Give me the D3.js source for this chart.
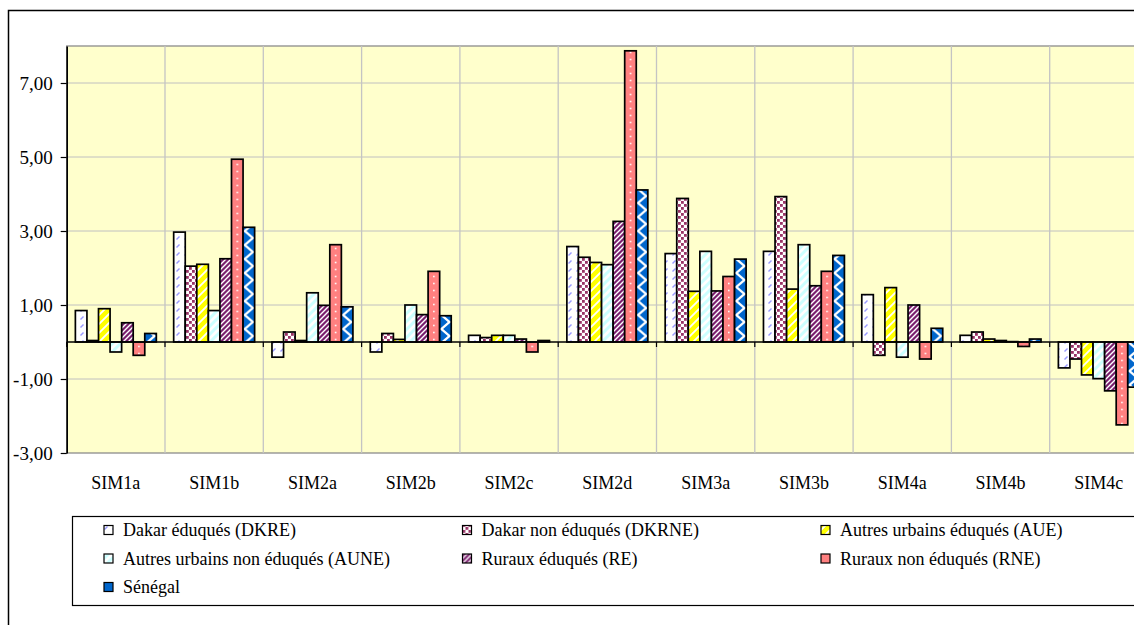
<!DOCTYPE html>
<html><head><meta charset="utf-8">
<script src="https://cdn.jsdelivr.net/npm/d3@7"></script>
<style>
html,body{margin:0;padding:0;background:#fff;}
</style></head>
<body>
<script>
const categories = ["SIM1a","SIM1b","SIM2a","SIM2b","SIM2c","SIM2d","SIM3a","SIM3b","SIM4a","SIM4b","SIM4c"];
const seriesNames = ["Dakar éduqués (DKRE)","Dakar non éduqués (DKRNE)","Autres urbains éduqués (AUE)","Autres urbains non éduqués (AUNE)","Ruraux éduqués (RE)","Ruraux non éduqués (RNE)","Sénégal"];
const DKRE  = [0.85, 2.97, -0.41, -0.27, 0.18, 2.58, 2.39, 2.45, 1.28, 0.18, -0.70];
const DKRNE = [0.04, 2.05, 0.27, 0.23, 0.12, 2.29, 3.88, 3.93, -0.36, 0.27, -0.46];
const AUE   = [0.90, 2.10, 0.04, 0.07, 0.18, 2.15, 1.37, 1.43, 1.47, 0.08, -0.89];
const AUNE  = [-0.27, 0.85, 1.33, 1.00, 0.18, 2.09, 2.45, 2.63, -0.41, 0.04, -0.99];
const RE    = [0.52, 2.25, 0.99, 0.74, 0.08, 3.26, 1.38, 1.52, 1.00, 0.01, -1.32];
const RNE   = [-0.36, 4.94, 2.63, 1.91, -0.27, 7.87, 1.77, 1.91, -0.46, -0.12, -2.24];
const SEN   = [0.23, 3.10, 0.95, 0.71, 0.04, 4.11, 2.24, 2.34, 0.37, 0.08, -1.22];
const yTicks = [-3, -1, 1, 3, 5, 7];
const yDomain = [-3, 8];

const seriesValues = [DKRE, DKRNE, AUE, AUNE, RE, RNE, SEN];
const keys = ["DKRE","DKRNE","AUE","AUNE","RE","RNE","SEN"];
const FONT = "'Liberation Serif'";

const W = 1134, H = 625;
const plotL = 66.7, plotT = 46, plotB = 453, catStep = 98.3;
const plotR = plotL + catStep * categories.length;

const svg = d3.select("body").append("svg").attr("width", W).attr("height", H);
const defs = svg.append("defs");

const x = d3.scaleBand().domain(categories).range([plotL, plotR]).paddingInner(0).paddingOuter(0);
const xi = d3.scaleBand().domain(keys).range([0, x.bandwidth()]).paddingInner(0).paddingOuter(0.75);
const y = d3.scaleLinear().domain(yDomain).range([plotB, plotT]);
const bw = xi.bandwidth();

// ---- patterns ----
function pat(id, w, h, opts) {
  const p = defs.append("pattern").attr("id", id).attr("patternUnits", "userSpaceOnUse")
    .attr("width", w).attr("height", h);
  if (opts && opts.x != null) p.attr("x", opts.x);
  return p;
}
{
  const p = pat("p-DKRE", 8, 8);
  p.append("rect").attr("width", 8).attr("height", 8).attr("fill", "#fff");
  p.append("path").attr("d", "M0.5,7.5 L3.5,4.5").attr("stroke", "#9999FF").attr("stroke-width", 1.4);
}
{
  const p = pat("p-DKRNE", 6, 6);
  p.append("rect").attr("width", 6).attr("height", 6).attr("fill", "#fff");
  p.append("rect").attr("x", 0).attr("y", 0).attr("width", 2.8).attr("height", 2.8).attr("fill", "#993366");
  p.append("rect").attr("x", 3).attr("y", 3).attr("width", 2.8).attr("height", 2.8).attr("fill", "#993366");
}
{
  const p = pat("p-AUE", 9, 9);
  p.append("rect").attr("width", 9).attr("height", 9).attr("fill", "#FFFF00");
  p.append("path").attr("d", "M-1,10 L10,-1 M-1,1 L1,-1 M8,10 L10,8").attr("stroke", "#fff").attr("stroke-width", 1.8);
}
{
  const p = pat("p-AUNE", 8, 8);
  p.append("rect").attr("width", 8).attr("height", 8).attr("fill", "#fff");
  p.append("path").attr("d", "M-1,9 L9,-1 M-1,1 L1,-1 M7,9 L9,7").attr("stroke", "#CCFFFF").attr("stroke-width", 3);
}
{
  const p = pat("p-RE", 5, 5);
  p.append("rect").attr("width", 5).attr("height", 5).attr("fill", "#7A1F6E");
  p.append("path").attr("d", "M-1,6 L6,-1 M-1,1 L1,-1 M4,6 L6,4").attr("stroke", "#fff").attr("stroke-width", 1.4);
}
{
  const p = pat("p-RNE", catStep, 7, {x: plotL});
  p.append("rect").attr("width", catStep).attr("height", 7).attr("fill", "#FF8080");
  p.append("rect").attr("x", xi("RNE") + bw / 2 - 0.8).attr("y", 2.7).attr("width", 1.6).attr("height", 1.6).attr("fill", "#fff");
}
{
  const ph = 14;
  const p = pat("p-SEN", catStep, ph, {x: plotL});
  p.append("rect").attr("width", catStep).attr("height", ph).attr("fill", "#fff");
  const sx = xi("SEN"), d = bw * 0.7;
  const dia = (cx, cy) => `M${cx - d},${cy} L${cx},${cy - ph / 2} L${cx + d},${cy} L${cx},${cy + ph / 2} Z`;
  p.append("path").attr("d", dia(sx, 0) + dia(sx, ph) + dia(sx + bw, ph / 2)).attr("fill", "#0066CC");
}

// ---- chart area ----
svg.append("rect").attr("x", 0).attr("y", 0).attr("width", W).attr("height", H).attr("fill", "#fff");
svg.append("rect").attr("x", 8.5).attr("y", 10.5).attr("width", 1200).attr("height", 700)
  .attr("fill", "#fff").attr("stroke", "#000").attr("stroke-width", 1.5);

svg.append("rect").attr("x", plotL).attr("y", plotT).attr("width", plotR - plotL).attr("height", plotB - plotT)
  .attr("fill", "#FFFFCC").attr("stroke", "#8C8C8C").attr("stroke-width", 1.3);

svg.append("g").selectAll("line").data(yTicks.filter(t => t > yDomain[0])).join("line")
  .attr("x1", plotL).attr("x2", plotR).attr("y1", d => y(d)).attr("y2", d => y(d))
  .attr("stroke", "#C0C0C0").attr("stroke-width", 1);
svg.append("g").selectAll("line").data(categories.slice(1)).join("line")
  .attr("x1", d => x(d)).attr("x2", d => x(d)).attr("y1", plotT).attr("y2", plotB)
  .attr("stroke", "#C4C4C4").attr("stroke-width", 1.3);

const barData = [];
keys.forEach((k, si) => categories.forEach((c, ci) => barData.push({k, c, v: seriesValues[si][ci]})));
svg.append("g").selectAll("rect").data(barData).join("rect")
  .attr("x", d => x(d.c) + xi(d.k))
  .attr("y", d => y(Math.max(0, d.v)))
  .attr("width", bw)
  .attr("height", d => Math.abs(y(d.v) - y(0)))
  .attr("fill", d => `url(#p-${d.k})`)
  .attr("stroke", "#000").attr("stroke-width", 1.7);

const y0 = y(0);
svg.append("line").attr("x1", plotL).attr("x2", plotR).attr("y1", y0).attr("y2", y0)
  .attr("stroke", "#000").attr("stroke-width", 1.6);
svg.append("g").selectAll("line").data(categories).join("line")
  .attr("x1", d => x(d)).attr("x2", d => x(d)).attr("y1", y0).attr("y2", y0 + 5)
  .attr("stroke", "#000").attr("stroke-width", 1.2);

const fmt = v => v.toFixed(2).replace(".", ",");
const ya = svg.append("g").attr("transform", `translate(${plotL},0)`)
  .call(d3.axisLeft(y).tickValues(yTicks).tickFormat(fmt).tickSize(6).tickSizeOuter(0).tickPadding(8));
ya.attr("font-family", FONT).attr("font-size", 19);
ya.select(".domain").attr("stroke", "#000").attr("stroke-width", 1.6);
ya.selectAll(".tick line").attr("stroke", "#000").attr("stroke-width", 1.2);
ya.selectAll(".tick text").attr("font-family", FONT).attr("font-size", 19).attr("fill", "#000");

svg.append("g").selectAll("text").data(categories).join("text")
  .attr("x", d => x(d) + x.bandwidth() / 2).attr("y", 489)
  .attr("text-anchor", "middle").attr("font-family", FONT).attr("font-size", 18).text(d => d);

svg.append("rect").attr("x", 72.5).attr("y", 516.5).attr("width", 1100).attr("height", 89)
  .attr("fill", "#fff").attr("stroke", "#000").attr("stroke-width", 1.2);
const legFill = {DKRE: "url(#p-DKRE)", DKRNE: "url(#p-DKRNE)", AUE: "url(#p-AUE)", AUNE: "url(#p-AUNE)", RE: "url(#p-RE)", RNE: "#FF8080", SEN: "#0066CC"};
const colX = [104, 462.5, 821];
const rowY = [530, 558.5, 587];
const lg = svg.append("g").selectAll("g").data(keys).join("g")
  .attr("transform", (d, i) => `translate(${colX[i % 3]},${rowY[Math.floor(i / 3)]})`);
lg.append("rect").attr("x", 0).attr("y", -4.5).attr("width", 9).attr("height", 9)
  .attr("fill", d => legFill[d]).attr("stroke", "#000").attr("stroke-width", 1.2);
lg.append("text").attr("x", 19).attr("y", 6).attr("font-family", FONT).attr("font-size", 18)
  .text((d, i) => seriesNames[i]);
</script>
</body></html>
